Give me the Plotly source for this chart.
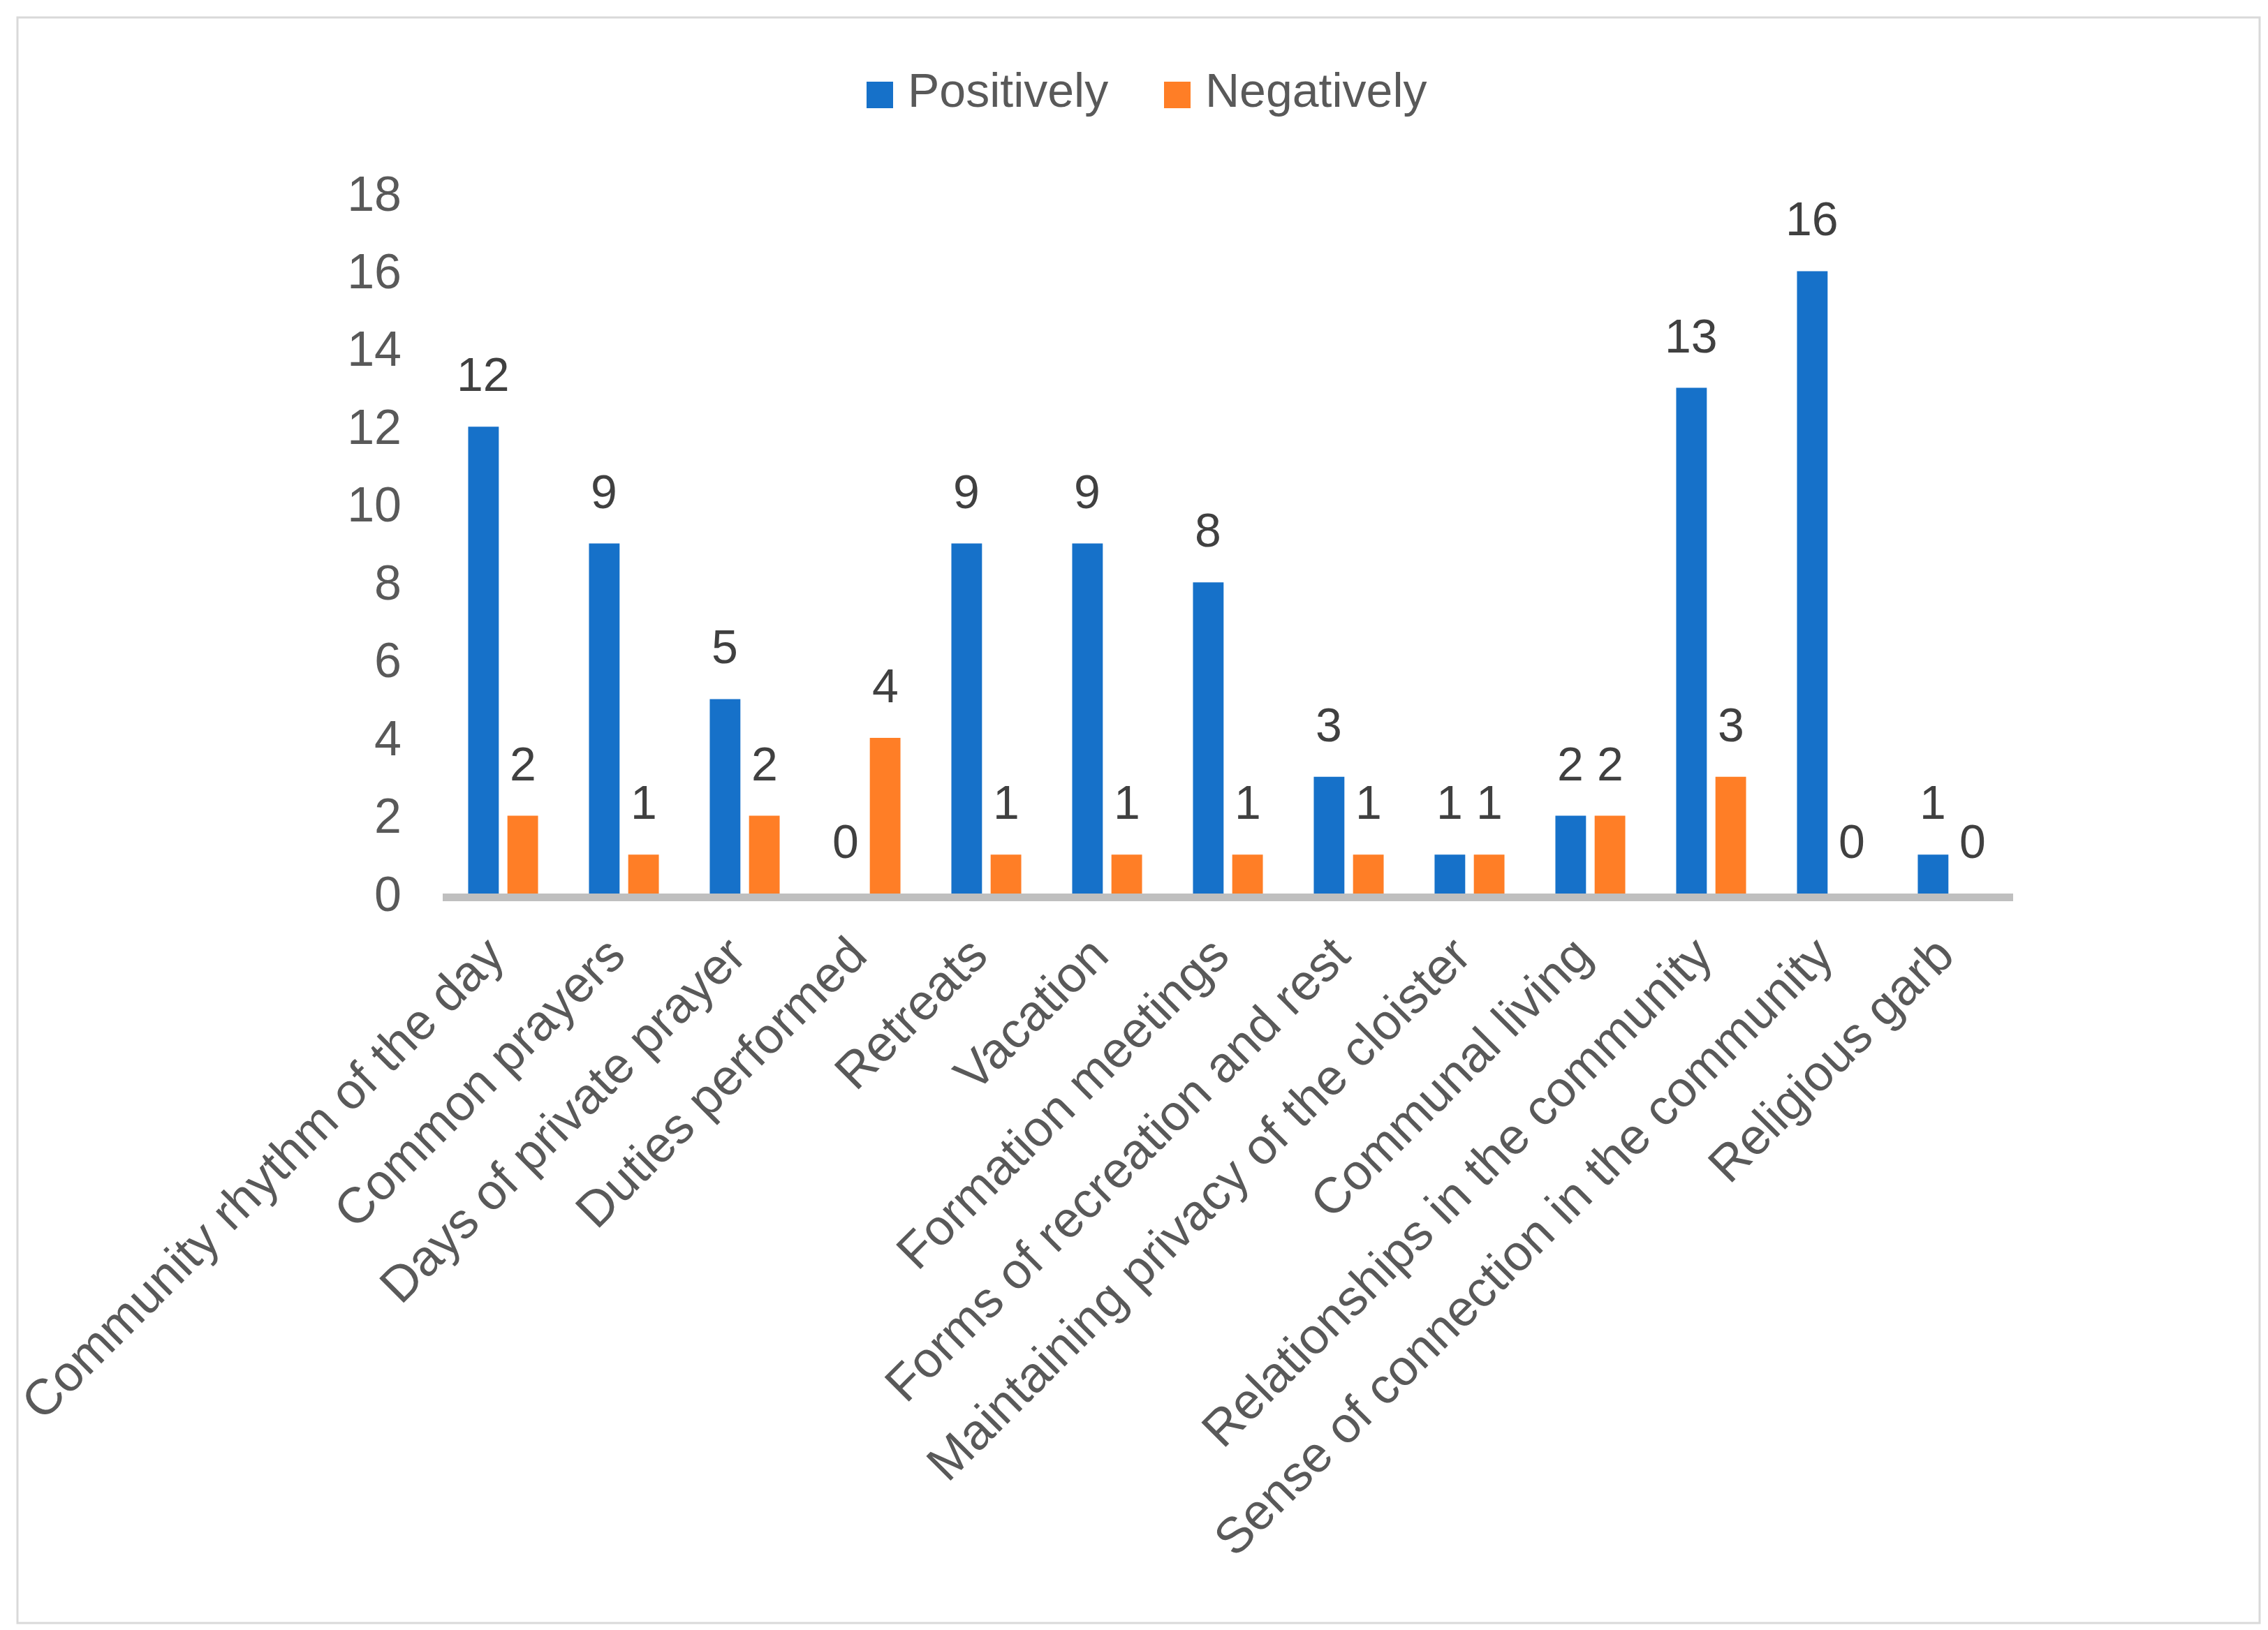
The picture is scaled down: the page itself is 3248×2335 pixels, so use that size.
import plotly.graph_objects as go

categories = [
    "Community rhythm of the day", "Common prayers", "Days of private prayer",
    "Duties performed", "Retreats", "Vacation", "Formation meetings",
    "Forms of recreation and rest", "Maintaining privacy of the cloister",
    "Communal living", "Relationships in the community",
    "Sense of connection in the community", "Religious garb",
]
positively = [12, 9, 5, 0, 9, 9, 8, 3, 1, 2, 13, 16, 1]
negatively = [2, 1, 2, 4, 1, 1, 1, 1, 1, 2, 3, 0, 0]
y_ticks = [0, 2, 4, 6, 8, 10, 12, 14, 16, 18]
series_names = ["Positively", "Negatively"]

BLUE = "#1671C9"
ORANGE = "#FF7E26"
TXT = "#595959"
LBL = "#404040"
FONT = "Liberation Sans, Arial, sans-serif"

FW, FH = 3248, 2335
L, R, T, B = 626, 373, 269, 1063
PW, PH = FW - L - R, FH - T - B
BARGAP, GROUPGAP = 0.35, 0.22

def px_x(px):
    return (px - L) / PW

def px_y(py):
    return (FH - B - py) / PH

fig = go.Figure()
for name, vals, col in [(series_names[0], positively, BLUE), (series_names[1], negatively, ORANGE)]:
    fig.add_trace(go.Bar(x=categories, y=vals, name=name, marker=dict(color=col, line=dict(width=0)),
                         showlegend=False))

cat_w = PW / len(categories)
slot = cat_w * (1 - BARGAP) / 2
annotations = []
for vals, sh in [(positively, -slot / 2), (negatively, slot / 2)]:
    for c, v in zip(categories, vals):
        annotations.append(dict(x=c, y=v, xref="x", yref="y", text=str(v), showarrow=False,
                                xshift=sh, yshift=75, yanchor="middle", xanchor="center",
                                font=dict(family=FONT, size=68, color=LBL)))

shapes = []
# axis base line (just below zero)
shapes.append(dict(type="rect", xref="paper", x0=0, x1=1, yref="paper", ysizemode="pixel", yanchor=0,
                   y0=0, y1=-11, fillcolor="#BFBFBF", line=dict(width=0), layer="above"))

# manual legend
leg = [(series_names[0], BLUE, 1233, 1290), (series_names[1], ORANGE, 1659, 1716)]
for name, col, sx, tx in leg:
    shapes.append(dict(type="rect", xref="paper", yref="paper", x0=px_x(sx), x1=px_x(sx + 38),
                       y0=px_y(147), y1=px_y(109), fillcolor=col, line=dict(width=0)))
    annotations.append(dict(x=px_x(tx), y=px_y(121), xref="paper", yref="paper", text=name,
                            showarrow=False, xanchor="left", yanchor="middle",
                            font=dict(family=FONT, size=68, color=TXT)))

# outer border
shapes.append(dict(type="rect", xref="paper", yref="paper", x0=px_x(17), x1=px_x(3228),
                   y0=px_y(2317), y1=px_y(17), line=dict(color="#D9D9D9", width=3),
                   fillcolor="rgba(0,0,0,0)", layer="below"))

fig.update_layout(
    width=FW, height=FH,
    margin=dict(l=L, r=R, t=T, b=B, autoexpand=False),
    paper_bgcolor="white", plot_bgcolor="white",
    barmode="group", bargap=BARGAP, bargroupgap=GROUPGAP,
    annotations=annotations, shapes=shapes,
    showlegend=False,
    xaxis=dict(type="category", showgrid=False, showline=False, zeroline=False,
               tickangle=-45, ticks="", automargin=False, ticklabelstandoff=30, ticklabelshift=-20,
               tickfont=dict(family=FONT, size=72, color=TXT)),
    yaxis=dict(range=[0, 18], tickvals=y_ticks, showgrid=False, zeroline=False, showline=False,
               ticks="", automargin=False, ticklabelstandoff=58,
               tickfont=dict(family=FONT, size=70, color=TXT)),
)

fig.write_html("out.html")
